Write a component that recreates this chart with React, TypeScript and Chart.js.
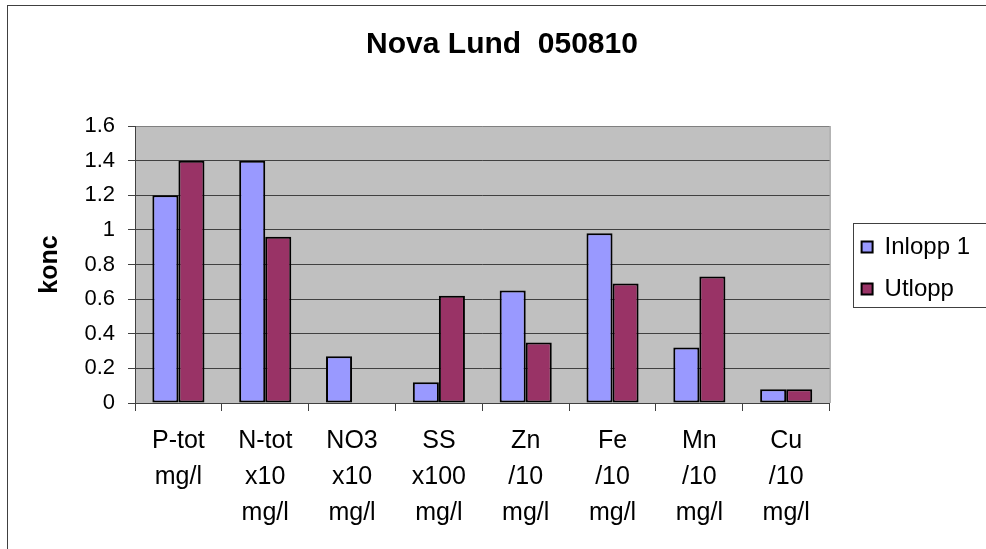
import React, { useEffect, useRef } from "react";
import { Chart, registerables } from "chart.js";

Chart.register(...registerables);

// Sample categories, one label line per array entry
const CATEGORY_LABELS: string[][] = [
  ["P-tot", "mg/l"],
  ["N-tot", "x10", "mg/l"],
  ["NO3", "x10", "mg/l"],
  ["SS", "x100", "mg/l"],
  ["Zn", "/10", "mg/l"],
  ["Fe", "/10", "mg/l"],
  ["Mn", "/10", "mg/l"],
  ["Cu", "/10", "mg/l"],
];

const SERIES_NAMES = ["Inlopp 1", "Utlopp"];
const INLOPP: (number | null)[] = [1.2, 1.4, 0.27, 0.12, 0.65, 0.98, 0.32, 0.08];
const UTLOPP: (number | null)[] = [1.4, 0.96, null, 0.62, 0.35, 0.69, 0.73, 0.08];

const Y_TICK_LABELS = ["0", "0.2", "0.4", "0.6", "0.8", "1", "1.2", "1.4", "1.6"];
const Y_MAX = 1.6;
const Y_STEP = 0.2;

const TITLE = "Nova Lund  050810";
const Y_TITLE = "konc";

const FONT = "'Liberation Sans', Arial, Helvetica, sans-serif";
const W = 986;
const H = 549;

// Plot background, outer frame, legend frame and small position nudges
const framePlugin = {
  id: "excelFrame",
  afterLayout(chart: any) {
    const lg = chart.legend;
    if (lg) {
      lg.left += 14;
      lg.right += 14;
      lg.top -= 9.5;
      lg.bottom -= 9.5;
    }
    const tb = chart.titleBlock;
    if (tb) {
      tb.left += 15;
      tb.right += 15;
    }
  },
  beforeDraw(chart: any) {
    const { ctx, chartArea: a } = chart;
    ctx.save();
    ctx.fillStyle = "#ffffff";
    ctx.fillRect(0, 0, chart.width, chart.height);
    ctx.strokeStyle = "#404040";
    ctx.lineWidth = 1;
    ctx.strokeRect(7.5, 5.5, chart.width + 40, chart.height + 40);
    ctx.fillStyle = "#C0C0C0";
    ctx.fillRect(a.left, a.top, a.right - a.left, a.bottom - a.top);
    ctx.strokeStyle = "#808080";
    ctx.beginPath();
    ctx.moveTo(a.right + 0.5, a.top);
    ctx.lineTo(a.right + 0.5, a.bottom);
    ctx.stroke();
    // legend frame
    const lg = chart.legend;
    if (lg) {
      const pad = lg.options.labels.padding;
      const cy = (a.top + a.bottom) / 2 + 0.5;
      const left = Math.round(lg.left + pad - 9) + 0.5;
      ctx.strokeStyle = "#404040";
      ctx.strokeRect(left, Math.round(cy - 42) + 0.5, 200, 84);
    }
    ctx.restore();
  },
};

export default function App() {
  const ref = useRef<HTMLCanvasElement | null>(null);

  useEffect(() => {
    document.body.style.margin = "0";
    const canvas = ref.current;
    if (!canvas) return;
    Chart.defaults.font.family = FONT;
    Chart.defaults.color = "#000000";

    const chart = new Chart(canvas, {
      type: "bar",
      data: {
        labels: CATEGORY_LABELS,
        datasets: [
          {
            label: SERIES_NAMES[0],
            data: INLOPP,
            backgroundColor: "#9999FF",
            borderColor: "#000000",
            borderWidth: 2,
            borderSkipped: false,
          },
          {
            label: SERIES_NAMES[1],
            data: UTLOPP,
            backgroundColor: "#993366",
            borderColor: "#000000",
            borderWidth: 2,
            borderSkipped: false,
          },
        ],
      },
      options: {
        responsive: false,
        animation: false,
        devicePixelRatio: 1,
        layout: { padding: { left: 8, top: 6, right: 20, bottom: 0 } },
        datasets: {
          bar: { categoryPercentage: 0.6, barPercentage: 1 },
        },
        plugins: {
          title: {
            display: true,
            text: TITLE,
            color: "#000000",
            font: { size: 30, weight: "bold", family: FONT },
            padding: { top: 21, bottom: 63 },
          },
          legend: {
            display: true,
            position: "right",
            labels: {
              boxWidth: 11,
              boxHeight: 11,
              padding: 18,
              color: "#000000",
              font: { size: 24, family: FONT },
            },
          },
          tooltip: { enabled: false },
        },
        scales: {
          x: {
            offset: true,
            grid: {
              offset: true,
              drawOnChartArea: false,
              drawTicks: true,
              tickLength: 8,
              tickColor: "#404040",
            },
            border: { display: true, color: "#404040", width: 1 },
            ticks: {
              padding: 12,
              maxRotation: 0,
              autoSkip: false,
              color: "#000000",
              font: { size: 25, family: FONT, lineHeight: 1.44 },
            },
            afterFit: (s: any) => {
              s.height = 146;
            },
          },
          y: {
            min: 0,
            max: Y_MAX,
            ticks: {
              stepSize: Y_STEP,
              padding: 13,
              color: "#000000",
              font: { size: 22, family: FONT },
              callback: (_v: any, i: number) => Y_TICK_LABELS[i],
            },
            grid: {
              color: (c: any) =>
                c.tick && Math.abs(c.tick.value - Y_MAX) < 1e-6 ? "#808080" : "#404040",
              tickColor: "#404040",
              tickLength: 7,
              lineWidth: 1,
            },
            border: { display: true, color: "#404040", width: 1 },
            title: {
              display: true,
              text: Y_TITLE,
              color: "#000000",
              font: { size: 25, weight: "bold", family: FONT },
              padding: { top: 27, bottom: 0 },
            },
            afterFit: (s: any) => {
              s.width = 127;
            },
          },
        },
      },
      plugins: [framePlugin],
    } as any);

    return () => chart.destroy();
  }, []);

  return (
    <div style={{ width: W, height: H }}>
      <canvas ref={ref} width={W} height={H} style={{ display: "block" }} />
    </div>
  );
}
